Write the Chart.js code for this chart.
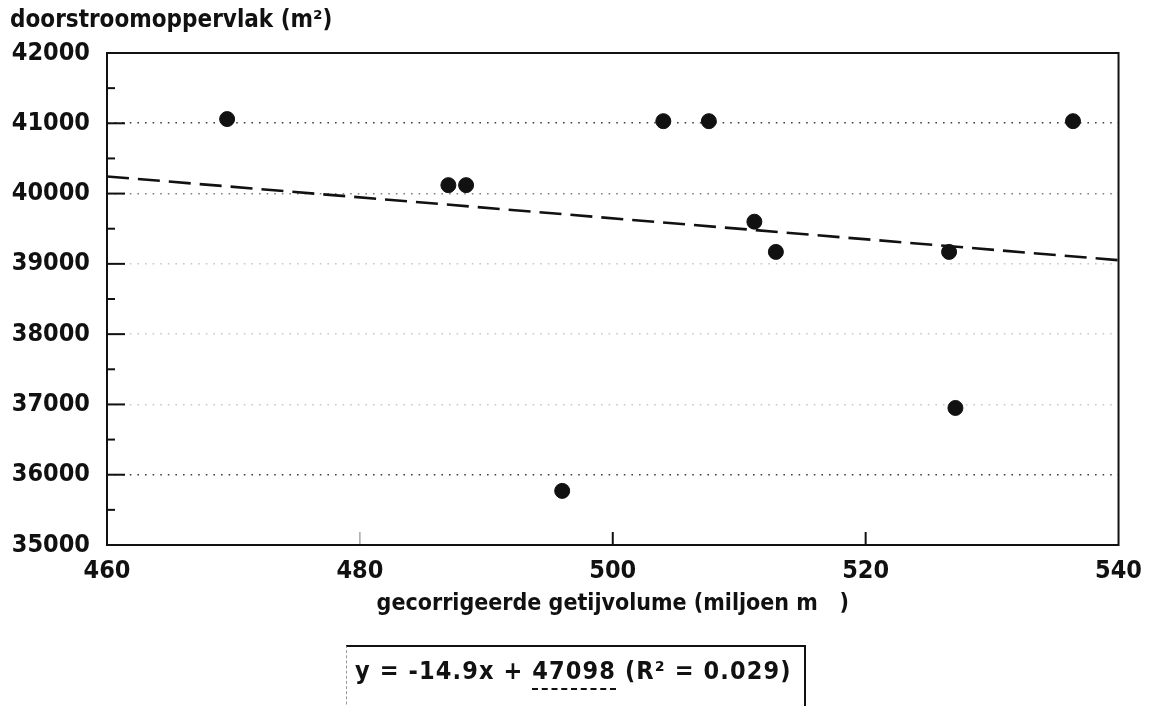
<!DOCTYPE html>
<html>
<head>
<meta charset="utf-8">
<script src="https://cdn.jsdelivr.net/npm/chart.js@4.4.1/dist/chart.umd.min.js"></script>
<style>
  html, body { margin: 0; padding: 0; background: #fff; }
  #wrap { position: relative; width: 1153px; height: 706px; overflow: hidden; background: #fff; }
  canvas { position: absolute; left: 0; top: 0; }
  #eq {
    position: absolute; left: 346px; top: 645px; width: 460px; height: 80px;
    border-top: 2px solid #111; border-right: 2px solid #111; border-left: 1px dashed #999;
    box-sizing: border-box; padding: 9px 0 0 8px;
    font-family: "DejaVu Sans Condensed", "DejaVu Sans", sans-serif; font-weight: bold;
    font-size: 25px; line-height: 30px; color: #111; white-space: pre; letter-spacing: 1.1px;
  }
  #eq .u { text-decoration: underline dashed; text-underline-offset: 9px; text-decoration-thickness: 2px; }
</style>
</head>
<body>
<div id="wrap">
  <canvas id="c" width="1153" height="706"></canvas>
  <div id="eq">y = -14.9x + <span class="u">47098</span> (R² = 0.029)</div>
</div>
<script>
// ---- data ----
const xValues = [469.5, 487.0, 488.4, 496.0, 504.0, 507.6, 511.2, 512.9, 526.6, 527.1, 536.4];
const yValues = [41060, 40120, 40120, 35770, 41030, 41030, 39600, 39170, 39170, 36950, 41030];
const trendX = [460, 540];
const trendY = [40244, 39052];
const xTicks = [460, 480, 500, 520, 540];
const yTicks = [35000, 36000, 37000, 38000, 39000, 40000, 41000, 42000];
const yTitle = 'doorstroomoppervlak (m²)';
const xTitle = 'gecorrigeerde getijvolume (miljoen m   )';

const FONT = '"DejaVu Sans Condensed", "DejaVu Sans", sans-serif';

const points = xValues.map((x, i) => ({ x: x, y: yValues[i] }));
const trend = trendX.map((x, i) => ({ x: x, y: trendY[i] }));

function gridColor(v) {
  if (v === 41000 || v === 36000) return 'rgba(0,0,0,0.75)';
  if (v === 40000) return 'rgba(0,0,0,0.5)';
  if (v > 35000 && v < 42000 && v % 1000 === 0) return 'rgba(0,0,0,0.22)';
  return 'rgba(0,0,0,0)';
}

const framePlugin = {
  id: 'frame',
  afterDatasetsDraw(chart) {
    const { ctx, chartArea: a, scales } = chart;
    ctx.save();
    ctx.strokeStyle = '#111';
    ctx.lineWidth = 2;
    ctx.setLineDash([]);
    ctx.strokeRect(a.left, a.top, a.right - a.left, a.bottom - a.top);
    // inward y ticks (major every 1000, minor every 500)
    scales.y.ticks.forEach(t => {
      const v = t.value;
      if (v <= 35000 || v >= 42000) return;
      const py = scales.y.getPixelForValue(v);
      const len = (v % 1000 === 0) ? 18 : 8;
      ctx.beginPath();
      ctx.moveTo(a.left, py);
      ctx.lineTo(a.left + len, py);
      ctx.stroke();
    });
    // inward x ticks
    xTicks.forEach(v => {
      if (v <= 460 || v >= 540) return;
      const px = scales.x.getPixelForValue(v);
      ctx.strokeStyle = v === 480 ? 'rgba(0,0,0,0.35)' : '#111';
      ctx.lineWidth = v === 480 ? 1.5 : 2;
      ctx.beginPath();
      ctx.moveTo(px, a.bottom);
      ctx.lineTo(px, a.bottom - 13);
      ctx.stroke();
    });
    ctx.restore();
  }
};

new Chart(document.getElementById('c'), {
  type: 'scatter',
  data: {
    datasets: [
      {
        label: 'metingen',
        data: points,
        backgroundColor: '#111',
        borderColor: '#111',
        pointRadius: 7.5,
        pointHoverRadius: 7.5,
        showLine: false
      },
      {
        label: 'trend',
        type: 'line',
        data: trend,
        borderColor: '#111',
        borderWidth: 2.6,
        borderDash: [22, 9],
        pointRadius: 0,
        fill: false,
        showLine: true
      }
    ]
  },
  options: {
    responsive: false,
    devicePixelRatio: 1,
    animation: false,
    layout: { padding: { left: 10, right: 28, top: 0, bottom: 0 } },
    plugins: {
      legend: { display: false },
      tooltip: { enabled: false },
      title: {
        display: true,
        text: yTitle,
        align: 'start',
        color: '#111',
        font: { family: FONT, size: 24, weight: 'bold' },
        padding: { top: 6, bottom: 18.2 }
      }
    },
    scales: {
      x: {
        type: 'linear',
        min: 460,
        max: 540,
        afterBuildTicks: s => { s.ticks = xTicks.map(v => ({ value: v })); },
        ticks: {
          color: '#111',
          font: { family: FONT, size: 25, weight: 'bold' },
          padding: 11,
          maxRotation: 0,
          autoSkip: false,
          callback: v => String(v)
        },
        grid: { display: false, drawTicks: false },
        border: { display: false },
        title: {
          display: true,
          text: xTitle,
          color: '#111',
          font: { family: FONT, size: 23, weight: 'bold' },
          padding: { top: 0, bottom: 88 }
        },
        afterFit: s => { s.height = 161; }
      },
      y: {
        type: 'linear',
        min: 35000,
        max: 42000,
        afterBuildTicks: s => {
          const arr = [];
          for (let i = 0; i < yTicks.length; i++) {
            arr.push({ value: yTicks[i] });
            if (i < yTicks.length - 1) arr.push({ value: yTicks[i] + 500 });
          }
          s.ticks = arr;
        },
        ticks: {
          color: '#111',
          font: { family: FONT, size: 25, weight: 'bold' },
          padding: 17,
          autoSkip: false,
          callback: v => (yTicks.includes(v) ? String(v) : '')
        },
        grid: {
          drawTicks: false,
          lineWidth: 1.6,
          color: c => gridColor(c.tick ? c.tick.value : 0)
        },
        border: { display: false, dash: [1.6, 6] },
        afterFit: s => { s.width = 97; }
      }
    }
  },
  plugins: [framePlugin]
});
</script>
</body>
</html>
